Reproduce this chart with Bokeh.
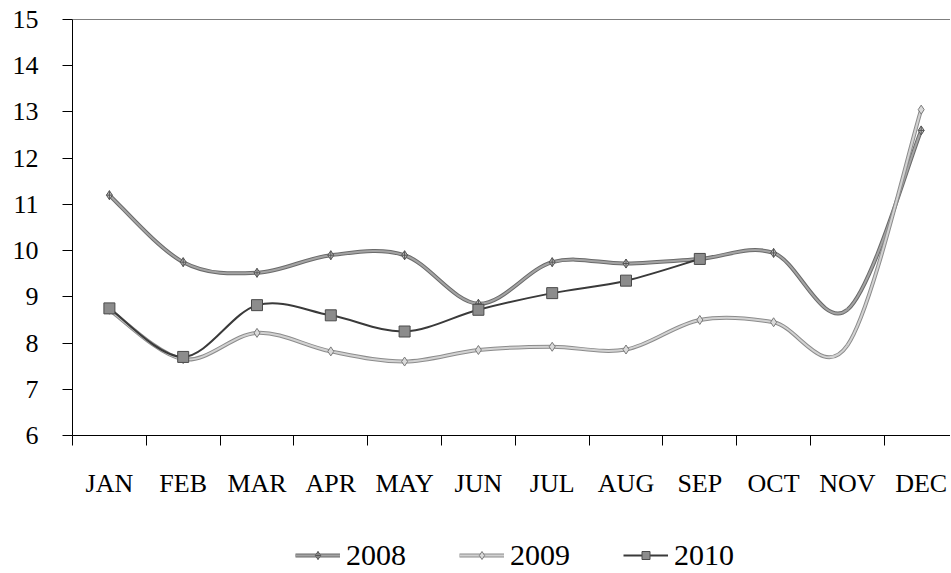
from bokeh.plotting import figure
from bokeh.models import FixedTicker, Span, Legend, LegendItem
from bokeh.layouts import column
from bokeh.embed import file_html
from bokeh.resources import INLINE
import numpy as np

months = ["JAN", "FEB", "MAR", "APR", "MAY", "JUN", "JUL", "AUG", "SEP", "OCT", "NOV", "DEC"]
y2008 = [11.2, 9.75, 9.52, 9.9, 9.9, 8.85, 9.75, 9.72, 9.82, 9.95, 8.72, 12.6]
y2009 = [8.72, 7.65, 8.22, 7.82, 7.6, 7.85, 7.92, 7.86, 8.5, 8.45, 7.95, 13.05]
y2010 = [8.75, 7.7, 8.82, 8.6, 8.25, 8.72, 9.08, 9.35, 9.82]
y_ticks = [6, 7, 8, 9, 10, 11, 12, 13, 14, 15]

FONT = "Liberation Serif"
W = 950

xs_all = np.arange(1, 13)


def smooth(xs, ys):
    xs = list(xs); ys = list(ys)
    n = len(xs)
    d_ = dict(x0=[], y0=[], x1=[], y1=[], cx0=[], cy0=[], cx1=[], cy1=[])
    for i in range(n - 1):
        a = max(i - 1, 0); d = min(i + 2, n - 1)
        d_["x0"].append(xs[i]); d_["y0"].append(ys[i])
        d_["x1"].append(xs[i + 1]); d_["y1"].append(ys[i + 1])
        d_["cx0"].append(xs[i] + (xs[i + 1] - xs[a]) / 6.0)
        d_["cy0"].append(ys[i] + (ys[i + 1] - ys[a]) / 6.0)
        d_["cx1"].append(xs[i + 1] - (xs[d] - xs[i]) / 6.0)
        d_["cy1"].append(ys[i + 1] - (ys[d] - ys[i]) / 6.0)
    return d_


BZ = dict(x0="x0", y0="y0", x1="x1", y1="y1", cx0="cx0", cy0="cy0", cx1="cx1", cy1="cy1")
x10 = xs_all[:len(y2010)]
keep = [i for i in range(12) if i != 10]


def draw_series(fig):
    r = {}
    r["08o"] = fig.bezier(source=smooth(xs_all, y2008), line_color="#6a6a6a", line_width=4, **BZ)
    r["08"] = fig.bezier(source=smooth(xs_all, y2008), line_color="#a4a4a4", line_width=2, **BZ)
    r["08s"] = fig.scatter(xs_all[keep], [y2008[i] for i in keep], marker="diamond_cross", size=9,
                           fill_color="#bdbdbd", line_color="#555555")
    r["09o"] = fig.bezier(source=smooth(xs_all, y2009), line_color="#8c8c8c", line_width=4, **BZ)
    r["09"] = fig.bezier(source=smooth(xs_all, y2009), line_color="#d2d2d2", line_width=2, **BZ)
    r["09s"] = fig.scatter(xs_all[keep], [y2009[i] for i in keep], marker="diamond", size=9,
                           fill_color="#dadada", line_color="#7a7a7a")
    r["10"] = fig.bezier(source=smooth(x10, y2010), line_color="#3a3a3a", line_width=2, **BZ)
    r["10s"] = fig.scatter(x10, y2010, marker="square", size=11, fill_color="#8c8c8c", line_color="#4a4a4a")
    return r


p = figure(width=W, height=510, output_backend="svg", toolbar_location=None,
           x_range=(0.5, 0.5 + (W - 72) / 73.8), y_range=(6, 15),
           min_border_left=72, min_border_top=19, min_border_right=0, min_border_bottom=75)
p.outline_line_color = None
p.xgrid.visible = False
p.ygrid.visible = False
draw_series(p)

p.add_layout(Span(location=15, dimension="width", line_color="black", line_width=1))

xa = p.xaxis[0]
xa.ticker = FixedTicker(ticks=list(xs_all), minor_ticks=[i + 0.5 for i in range(12)])
xa.major_label_overrides = {int(i + 1): m for i, m in enumerate(months)}
xa.major_tick_out = 0
xa.major_tick_in = 0
xa.minor_tick_out = 10
xa.minor_tick_in = 0
xa.minor_tick_line_color = "black"
xa.major_label_standoff = 23
xa.major_label_text_font = FONT
xa.major_label_text_font_size = "26px"
xa.major_label_text_color = "black"
xa.axis_line_color = "black"

ya = p.yaxis[0]
ya.ticker = FixedTicker(ticks=y_ticks)
ya.major_tick_out = 10
ya.major_tick_in = 0
ya.minor_tick_out = 0
ya.minor_tick_in = 0
ya.major_label_standoff = 24
ya.major_label_text_font = FONT
ya.major_label_text_font_size = "26px"
ya.major_label_text_color = "black"
ya.axis_line_color = "black"

# legend strip (same series, drawn outside its visible range so only the legend shows)
q = figure(width=W, height=62, output_backend="svg", toolbar_location=None,
           x_range=(100, 101), y_range=(100, 101),
           min_border_left=0, min_border_right=0, min_border_top=0, min_border_bottom=0)
q.outline_line_color = None
q.axis.visible = False
q.xgrid.visible = False
q.ygrid.visible = False
rq = draw_series(q)
items = [LegendItem(label="2008", renderers=[rq["08o"], rq["08"], rq["08s"]]),
         LegendItem(label="2009", renderers=[rq["09o"], rq["09"], rq["09s"]]),
         LegendItem(label="2010", renderers=[rq["10"], rq["10s"]])]
legend = Legend(items=items, orientation="horizontal", location=(223, 0),
                glyph_width=45, glyph_height=20, label_standoff=6, spacing=53,
                padding=0, margin=0, border_line_color=None, background_fill_alpha=0,
                label_text_font=FONT, label_text_font_size="30px", label_text_color="black")
q.add_layout(legend)

open("out.html", "w").write(file_html(column(p, q, spacing=0), INLINE))
